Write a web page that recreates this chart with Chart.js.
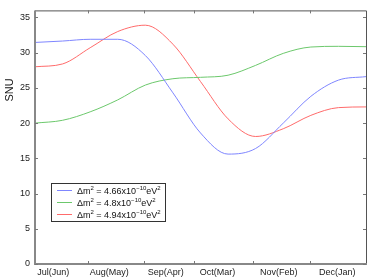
<!DOCTYPE html>
<html>
<head>
<meta charset="utf-8">
<script src="https://cdn.jsdelivr.net/npm/chart.js@4/dist/chart.umd.min.js"></script>
<style>
    body { margin: 0; background: #fff; }
    #wrap { position: relative; width: 388px; height: 277px; }
</style>
</head>
<body>
<div id="wrap">
    <canvas id="snuChart"></canvas>
</div>
<script>
// x runs 0..6 (one unit per month column)
const xs = [0, 0.5, 1, 1.5, 2, 2.5, 3, 3.5, 4, 4.5, 5, 5.5, 6];
const snu466 = [31.45, 31.65, 31.9, 31.9, 29.6, 24.3, 18.6, 15.6, 16.4, 20.0, 23.8, 26.1, 26.6];
const snu48 = [20.0, 20.4, 21.6, 23.3, 25.4, 26.3, 26.5, 26.8, 28.2, 29.9, 30.8, 30.9, 30.85];
const snu494 = [28.0, 28.4, 30.7, 33.0, 33.9, 31.2, 25.9, 20.6, 18.1, 19.2, 21.1, 22.2, 22.3];
const massValues = ['4.66', '4.8', '4.94'];

const monthLabels = ['Jul(Jun)', 'Aug(May)', 'Sep(Apr)', 'Oct(Mar)', 'Nov(Feb)', 'Dec(Jan)'];
const labelPositions = [0.33, 1.345, 2.37, 3.31, 4.42, 5.48];
const xTickPositions = [0.96, 1.98, 2.88, 3.95, 4.985];
const yTickValues = [0, 5, 10, 15, 20, 25, 30, 35];

const FONT = '"Liberation Sans", Arial, sans-serif';

function points(values) {
    return xs.map(function (x, i) { return { x: x, y: values[i] }; });
}

// frame with inward ticks, the y title and the boxed legend
const framePlugin = {
    id: 'frame',
    afterDatasetsDraw: function (chart) {
        const ctx = chart.ctx;
        const a = chart.chartArea;
        const xScale = chart.scales.x;
        const yScale = chart.scales.y;
        ctx.save();
        ctx.strokeStyle = '#555';
        ctx.lineWidth = 1;
        ctx.beginPath();
        ctx.moveTo(a.left, a.top + 0.5);
        ctx.lineTo(a.right + 0.5, a.top + 0.5);
        ctx.lineTo(a.right + 0.5, a.bottom);
        ctx.stroke();

        ctx.strokeStyle = '#888';
        ctx.lineWidth = 2;
        ctx.beginPath();
        ctx.moveTo(a.left, a.top);
        ctx.lineTo(a.left, a.bottom);
        ctx.lineTo(a.right + 1, a.bottom);
        ctx.stroke();

        ctx.strokeStyle = '#777';
        ctx.lineWidth = 1;
        ctx.beginPath();
        yTickValues.forEach(function (v) {
            const py = Math.round(yScale.getPixelForValue(v)) + 0.5;
            ctx.moveTo(a.left, py); ctx.lineTo(a.left + 3, py);
            ctx.moveTo(a.right, py); ctx.lineTo(a.right - 3, py);
        });
        xTickPositions.forEach(function (v) {
            const px = Math.round(xScale.getPixelForValue(v)) + 0.5;
            ctx.moveTo(px, a.bottom); ctx.lineTo(px, a.bottom - 3);
            ctx.moveTo(px, a.top); ctx.lineTo(px, a.top + 3);
        });
        ctx.stroke();

        // legend box
        const lx = 51, ly = 183, lw = 115, lh = 39;
        ctx.fillStyle = '#fff';
        ctx.fillRect(lx, ly, lw, lh);
        ctx.strokeStyle = '#333';
        ctx.lineWidth = 1;
        ctx.strokeRect(lx + 0.5, ly + 0.5, lw - 1, lh - 1);
        ctx.textBaseline = 'alphabetic';
        ctx.textAlign = 'left';
        chart.data.datasets.forEach(function (ds, i) {
            const cy = ly + 7.5 + i * 12;
            ctx.strokeStyle = ds.borderColor;
            ctx.beginPath();
            ctx.moveTo(lx + 6, cy);
            ctx.lineTo(lx + 21, cy);
            ctx.stroke();
            const parts = [
                ['Δm', false], ['2', true], [' = ' + massValues[i] + 'x10', false],
                ['−10', true], ['eV', false], ['2', true]
            ];
            let tx = lx + 26;
            const base = cy + 3;
            ctx.fillStyle = '#111';
            parts.forEach(function (p) {
                ctx.font = (p[1] ? '6px ' : '9px ') + FONT;
                ctx.fillText(p[0], tx, p[1] ? base - 4 : base);
                tx += ctx.measureText(p[0]).width;
            });
        });

        ctx.translate(10, 90);
        ctx.rotate(-Math.PI / 2);
        ctx.fillStyle = '#111';
        ctx.font = '11px ' + FONT;
        ctx.textAlign = 'center';
        ctx.textBaseline = 'middle';
        ctx.fillText('SNU', 0, 0);
        ctx.restore();
    }
};

const chart = new Chart(document.getElementById('snuChart'), {
    type: 'line',
    data: {
        datasets: [
            { label: 'Δm² = 4.66x10⁻¹⁰eV²', data: points(snu466), borderColor: '#7f86ff' },
            { label: 'Δm² = 4.8x10⁻¹⁰eV²', data: points(snu48), borderColor: '#6cc86c' },
            { label: 'Δm² = 4.94x10⁻¹⁰eV²', data: points(snu494), borderColor: '#ff6b6b' }
        ].map(function (d) {
            d.borderWidth = 1;
            d.pointRadius = 0;
            d.tension = 0.4;
            d.cubicInterpolationMode = 'monotone';
            d.fill = false;
            return d;
        })
    },
    options: {
        responsive: true,
        maintainAspectRatio: false,
        animation: false,
        layout: { padding: { top: 3, right: 22, left: 0, bottom: 0 } },
        plugins: {
            legend: { display: false },
            tooltip: { enabled: false }
        },
        scales: {
            x: {
                type: 'linear',
                min: 0,
                max: 6,
                grid: { display: false, drawTicks: false, tickLength: 0 },
                border: { display: false },
                afterBuildTicks: function (scale) {
                    scale.ticks = labelPositions.map(function (v) { return { value: v }; });
                },
                afterFit: function (scale) { scale.height = 13; },
                ticks: {
                    autoSkip: false,
                    maxRotation: 0,
                    padding: 3,
                    color: '#222',
                    font: { size: 9, family: FONT },
                    callback: function (value, index) { return monthLabels[index]; }
                }
            },
            y: {
                min: 0,
                max: 36,
                grid: { display: false, drawTicks: false, tickLength: 0 },
                border: { display: false },
                afterBuildTicks: function (scale) {
                    scale.ticks = yTickValues.map(function (v) { return { value: v }; });
                },
                afterFit: function (scale) { scale.width = 35; },
                ticks: {
                    padding: 5,
                    color: '#222',
                    font: { size: 9, family: FONT }
                }
            }
        }
    },
    plugins: [framePlugin]
});
</script>
</body>
</html>
